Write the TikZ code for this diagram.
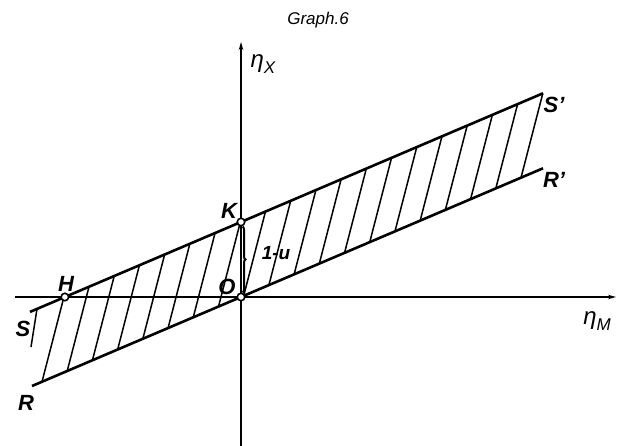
\documentclass[tikz,border=0pt]{standalone}
\usepackage{fontspec}
\setmainfont{Liberation Sans}
\usetikzlibrary{arrows.meta,decorations.pathreplacing}
\begin{document}
\begin{tikzpicture}[x=1pt,y=-1pt,
  mainline/.style={line width=2.6pt},
  hatchline/.style={line width=1.5pt},
  axisline/.style={line width=2pt,-{Stealth[length=8pt,width=4.5pt]}},
  pt/.style={circle,draw,fill=white,line width=1.6pt,inner sep=0pt,minimum size=7.5pt},
  lbl/.style={font=\fontsize{22}{22}\selectfont\bfseries\itshape,inner sep=0pt},
  sublbl/.style={font=\fontsize{24}{24}\selectfont\itshape,inner sep=0pt},
]
\useasboundingbox (0,0) rectangle (617,446);
% key points
\coordinate (R) at (32,386.0);
\coordinate (Rp) at (543,168.3);
\coordinate (S) at (30,311.9);
\coordinate (Sp) at (543,93.3);
\coordinate (xa0) at (15,297);
\coordinate (xa1) at (616,297);
\coordinate (ya0) at (241,446);
\coordinate (ya1) at (241,42);
\coordinate (St0) at (37,308.9);
\coordinate (St1) at (31,347);
% hatching
\foreach \k in {0,...,19} {
  \pgfmathsetmacro\xb{42+25.21*\k}
  \pgfmathsetmacro\yb{297-0.426*(\xb-241)}
  \draw[hatchline] (\xb,\yb) -- ++(21.8,-84.3);
}
\draw[hatchline] (St0) -- (St1);
% axes
\draw[axisline] (xa0) -- (xa1);
\draw[axisline] (ya0) -- (ya1);
% boundary lines
\draw[mainline] (R) -- (Rp);
\draw[mainline] (S) -- (Sp);
% points
\node[pt] (O) at (241,297) {};
\node[pt] (K) at (241,222) {};
\node[pt] (H) at (64.9,297) {};
% brace 1-u
\draw[line width=2pt,decorate,decoration={brace,amplitude=3pt,raise=1.5pt}] (K.south) -- (O.north);
% labels
\node[lbl] (lK) at (229,211) {K};
\node[lbl] (lO) at (227,287) {O};
\node[lbl] (lH) at (66,284) {H};
\node[lbl] (lS) at (23,329) {S};
\node[lbl] (lR) at (26,403) {R};
\node[lbl] (lSp) at (554,105) {S'};
\node[lbl] (lRp) at (554,180) {R'};
\node[font=\fontsize{19}{19}\selectfont\bfseries\itshape,inner sep=0pt] (lu) at (276,253) {1-u};
\node[sublbl] (etaX) at (263,64) {η\raisebox{-0.45ex}{\fontsize{17}{17}\selectfont X}};
\node[sublbl] (etaM) at (597,321) {η\raisebox{-0.45ex}{\fontsize{17}{17}\selectfont M}};
\node[font=\fontsize{17}{17}\selectfont\itshape,inner sep=0pt] (title) at (318,20) {Graph.6};
\end{tikzpicture}
\end{document}
